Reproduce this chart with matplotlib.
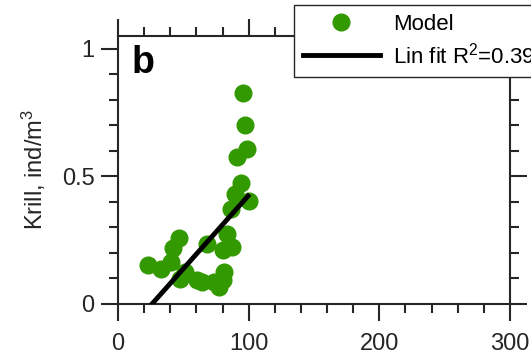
import numpy as np
import matplotlib.pyplot as plt
from matplotlib.ticker import MultipleLocator

# model points (x, krill density)
model_x = [95.9, 97.2, 98.5, 91.3, 94.4, 89.2, 100.3, 86.2, 83.6, 87.0, 80.5, 68.2, 46.4,
           42.1, 40.5, 22.8, 32.8, 51.5, 47.7, 60.5, 64.4, 73.3, 77.2, 80.5, 81.0]
model_y = [0.827, 0.700, 0.608, 0.574, 0.476, 0.431, 0.405, 0.371, 0.276, 0.224, 0.213, 0.234, 0.259,
           0.221, 0.165, 0.152, 0.137, 0.125, 0.099, 0.095, 0.086, 0.086, 0.066, 0.093, 0.125]

# linear fit ends
fit_x = [26.0, 99.5]
fit_y = [0.0, 0.423]
fit_label = r"Lin fit R$^2$=0.39"

x_ticks = [0, 100, 200, 300]
y_ticks = [0, 0.5, 1]
y_ticklabels = ["0", "0.5", "1"]

plt.rcParams['font.family'] = ['Liberation Sans', 'DejaVu Sans']
plt.rcParams['mathtext.fontset'] = 'custom'
plt.rcParams['mathtext.rm'] = 'Liberation Sans'
plt.rcParams['mathtext.it'] = 'Liberation Sans'

dark = '#262626'
green = '#339900'

fig = plt.figure(figsize=(5.31, 3.63), dpi=100)
ax = fig.add_axes([118/531, 59/363, 392/531, 268/363])

ax.plot(model_x, model_y, 'o', color=green, markersize=12, label='Model', zorder=3)
ax.plot(fit_x, fit_y, '-', color='black', lw=3.5, label=fit_label, zorder=4)

ax.set_xlim(0, 300)
ax.set_ylim(0, 1.05)
ax.set_xticks(x_ticks)
ax.set_yticks(y_ticks)
ax.set_yticklabels(y_ticklabels)
ax.xaxis.set_minor_locator(MultipleLocator(20))
ax.yaxis.set_minor_locator(MultipleLocator(0.1))

for s in ax.spines.values():
    s.set_linewidth(1.5)
    s.set_color(dark)
ax.tick_params(which='both', direction='out', top=True, right=True, color=dark,
               width=1.5, labelcolor=dark, labelsize=17)
ax.tick_params(which='major', length=12)
ax.tick_params(which='minor', length=6.5)
ax.tick_params(axis='x', pad=9)
ax.tick_params(axis='y', pad=5)

ax.set_ylabel("Krill, ind/m$^3$", fontsize=17, color=dark, labelpad=10)

ax.text(0.035, 0.965, 'b', transform=ax.transAxes, fontsize=27, fontweight='bold',
        ha='left', va='top', color='black')

leg = ax.legend(loc='upper left', bbox_to_anchor=(294/531, 358/363), bbox_transform=fig.transFigure,
                borderaxespad=0, fontsize=16, frameon=True, fancybox=False, handlelength=3.45,
                handletextpad=0.6, labelspacing=0.33, borderpad=0.4, numpoints=1,
                alignment='left')
leg.get_frame().set_edgecolor(dark)
leg.get_frame().set_linewidth(1)
leg.get_frame().set_alpha(1)
for t in leg.get_texts():
    t.set_color('black')

fig.savefig('out.png', dpi=100)
